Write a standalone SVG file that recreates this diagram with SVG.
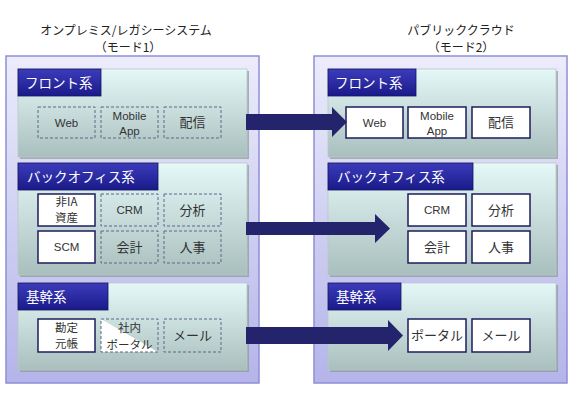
<svg xmlns="http://www.w3.org/2000/svg" width="580" height="401" viewBox="0 0 580 401">
<defs>
<linearGradient id="gOuter" x1="0" y1="0" x2="0" y2="1">
<stop offset="0" stop-color="#ececfb"/>
<stop offset="1" stop-color="#b4b4ea"/>
</linearGradient>
<linearGradient id="gSec" x1="0" y1="0" x2="0" y2="1">
<stop offset="0" stop-color="#e4f8f8"/>
<stop offset="1" stop-color="#a9bfbd"/>
</linearGradient>
<linearGradient id="gHead" x1="0" y1="0" x2="0" y2="1">
<stop offset="0" stop-color="#3c3cbc"/>
<stop offset="1" stop-color="#1a1a8a"/>
</linearGradient>
</defs>
<style>
.title{font-family:"Noto Sans CJK JP",sans-serif;font-size:12px;fill:#222;text-anchor:middle}
.outer{fill:url(#gOuter);stroke:#8e8ed6;stroke-width:1.5}
.sec{fill:url(#gSec);stroke:#b8c8c8;stroke-width:0.8}
.shadow{fill:#8a9a98;opacity:0.7}
.head{fill:url(#gHead);stroke:#14145c;stroke-width:0.8}
.htxt{font-family:"Noto Sans CJK JP",sans-serif;font-size:13.5px;fill:#fff}
.dash{fill:none;stroke:#5f6688;stroke-width:1;stroke-dasharray:3,2}
.solid{fill:#fff;stroke:#1c1c5e;stroke-width:1.5}
.t{font-family:"Liberation Sans","Noto Sans CJK JP",sans-serif;font-size:11.5px;fill:#333;text-anchor:middle}
.j{font-family:"Noto Sans CJK JP",sans-serif;font-size:13px;fill:#333;text-anchor:middle}
.s{font-family:"Noto Sans CJK JP","Liberation Sans",sans-serif;font-size:11.5px;fill:#333;text-anchor:middle}
.arrow{fill:#24246c}
</style>

<g id="title-left">
<text class="title" x="126" y="35">オンプレミス/レガシーシステム</text>
<text class="title" x="128" y="52">（モード1）</text>
</g>
<g id="title-right">
<text class="title" x="461" y="35">パブリッククラウド</text>
<text class="title" x="461" y="52">（モード2）</text>
</g>

<g id="panel-left">
<rect class="outer" x="6" y="56" width="253" height="327"/>
</g>
<g id="panel-right">
<rect class="outer" x="314" y="56" width="253" height="327"/>
</g>

<g id="left-front">
<rect class="shadow" x="20" y="71" width="229" height="88"/>
<rect class="sec" x="18" y="69" width="229" height="88"/>
<rect class="head" x="18" y="69" width="83" height="27"/>
<text class="htxt" x="25" y="88">フロント系</text>
</g>
<g id="left-back">
<rect class="shadow" x="20" y="165" width="229" height="112"/>
<rect class="sec" x="18" y="163" width="229" height="112"/>
<rect class="head" x="18" y="163" width="140" height="27"/>
<text class="htxt" x="27" y="182">バックオフィス系</text>
</g>
<g id="left-kikan">
<rect class="shadow" x="20" y="285" width="229" height="87"/>
<rect class="sec" x="18" y="283" width="229" height="87"/>
<rect class="head" x="18" y="283" width="90" height="27"/>
<text class="htxt" x="26" y="302">基幹系</text>
</g>

<g id="right-front">
<rect class="shadow" x="330" y="71" width="228" height="88"/>
<rect class="sec" x="328" y="69" width="228" height="88"/>
<rect class="head" x="328" y="69" width="88" height="27"/>
<text class="htxt" x="335" y="88">フロント系</text>
</g>
<g id="right-back">
<rect class="shadow" x="330" y="165" width="228" height="112"/>
<rect class="sec" x="328" y="163" width="228" height="112"/>
<rect class="head" x="328" y="163" width="145" height="27"/>
<text class="htxt" x="337" y="182">バックオフィス系</text>
</g>
<g id="right-kikan">
<rect class="shadow" x="330" y="285" width="228" height="87"/>
<rect class="sec" x="328" y="283" width="228" height="87"/>
<rect class="head" x="328" y="283" width="73" height="27"/>
<text class="htxt" x="336" y="302">基幹系</text>
</g>

<g id="l-web"><rect class="dash" x="38" y="107" width="57" height="31"/><text class="t" x="66.5" y="127">Web</text></g>
<g id="l-mobile"><rect class="dash" x="101" y="107" width="57" height="31"/><text class="t" x="129.5" y="120">Mobile</text><text class="t" x="129.5" y="135">App</text></g>
<g id="l-haishin"><rect class="dash" x="164" y="107" width="57" height="31"/><text class="j" x="192.5" y="127">配信</text></g>

<g id="l-hiia"><rect class="solid" x="38" y="194" width="57" height="32"/><text class="s" x="66.5" y="206">非IA</text><text class="s" x="66.5" y="222">資産</text></g>
<g id="l-crm"><rect class="dash" x="101" y="194" width="57" height="32"/><text class="t" x="129.5" y="214">CRM</text></g>
<g id="l-bunseki"><rect class="dash" x="164" y="194" width="57" height="32"/><text class="j" x="192.5" y="214.5">分析</text></g>
<g id="l-scm"><rect class="solid" x="38" y="231" width="57" height="32"/><text class="t" x="66.5" y="251">SCM</text></g>
<g id="l-kaikei"><rect class="dash" x="101" y="231" width="57" height="32"/><text class="j" x="129.5" y="251.5">会計</text></g>
<g id="l-jinji"><rect class="dash" x="164" y="231" width="57" height="32"/><text class="j" x="192.5" y="251.5">人事</text></g>

<g id="l-kanjo"><rect class="solid" x="38" y="319" width="57" height="33"/><text class="s" x="66.5" y="332">勘定</text><text class="s" x="66.5" y="348">元帳</text></g>
<g id="l-portal"><polygon points="101,319 101,352 158,352" fill="#fff"/><rect class="dash" x="101" y="319" width="57" height="33"/><text class="s" x="129.5" y="332">社内</text><text class="s" x="129.5" y="348.5">ポータル</text></g>
<g id="l-mail"><rect class="dash" x="164" y="319" width="57" height="33"/><text class="j" x="192.5" y="340">メール</text></g>

<g id="r-web"><rect class="solid" x="346" y="107" width="57" height="31"/><text class="t" x="374.5" y="127">Web</text></g>
<g id="r-mobile"><rect class="solid" x="408" y="107" width="58" height="31"/><text class="t" x="437" y="120">Mobile</text><text class="t" x="437" y="135">App</text></g>
<g id="r-haishin"><rect class="solid" x="472" y="107" width="58" height="31"/><text class="j" x="501" y="127">配信</text></g>

<g id="r-crm"><rect class="solid" x="408" y="194" width="58" height="32"/><text class="t" x="437" y="214">CRM</text></g>
<g id="r-bunseki"><rect class="solid" x="472" y="194" width="58" height="32"/><text class="j" x="501" y="214.5">分析</text></g>
<g id="r-kaikei"><rect class="solid" x="408" y="231" width="58" height="32"/><text class="j" x="437" y="251.5">会計</text></g>
<g id="r-jinji"><rect class="solid" x="472" y="231" width="58" height="32"/><text class="j" x="501" y="251.5">人事</text></g>

<g id="r-portal"><rect class="solid" x="408" y="319" width="58" height="33"/><text class="j" x="437" y="340">ポータル</text></g>
<g id="r-mail"><rect class="solid" x="472" y="319" width="58" height="33"/><text class="j" x="501" y="340">メール</text></g>

<g id="connectors">
<polygon class="arrow" points="246,114 332,114 332,107 347,122 332,137 332,130 246,130"/>
<polygon class="arrow" points="246,222 375,222 375,214 390,228.5 375,243 375,235 246,235"/>
<polygon class="arrow" points="246,327 388,327 388,320 403,335.5 388,351 388,344 246,344"/>
</g>
</svg>
